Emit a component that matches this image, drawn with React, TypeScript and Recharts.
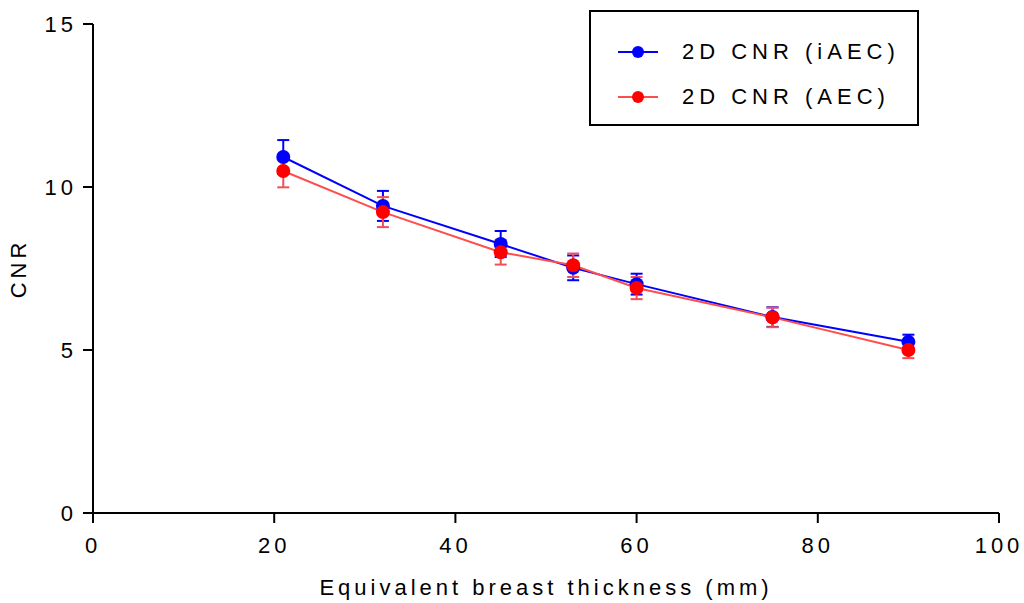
import { LineChart, Line, XAxis, YAxis, ErrorBar } from "recharts";

const thickness = [21, 32, 45, 53, 60, 75, 90];
const cnrIaec = [10.92, 9.42, 8.25, 7.52, 7.02, 6.01, 5.25];
const errIaec = [0.52, 0.46, 0.4, 0.38, 0.32, 0.3, 0.22];
const cnrAec = [10.49, 9.23, 8.0, 7.6, 6.9, 6.0, 5.0];
const errAec = [0.5, 0.46, 0.38, 0.36, 0.34, 0.3, 0.25];

const xTicks = [0, 20, 40, 60, 80, 100];
const yTicks = [0, 5, 10, 15];

const iaecData = thickness.map((x, i) => ({ x, y: cnrIaec[i], err: errIaec[i] }));
const aecData = thickness.map((x, i) => ({ x, y: cnrAec[i], err: errAec[i] }));

const font = "'Liberation Sans', Arial, sans-serif";
const tickStyle = { fontSize: 22, fill: "#000", letterSpacing: 4, fontFamily: font };

const legendItems = [
  { label: "2D CNR (iAEC)", line: "#0000ff", dot: "#0000ff" },
  { label: "2D CNR (AEC)", line: "#ff4d4d", dot: "#ff0000" },
];

function LegendBox() {
  return (
    <div
      style={{
        position: "absolute",
        left: 589,
        top: 10,
        border: "2px solid #000",
        width: 330,
        height: 116,
        boxSizing: "border-box",
        background: "#fff",
        fontFamily: font,
        paddingTop: 17,
      }}
    >
      {legendItems.map((it) => (
        <div key={it.label} style={{ display: "flex", alignItems: "center", height: 45 }}>
          <svg width={90} height={20} style={{ marginLeft: 27 }}>
            <line x1={0} y1={10} x2={40} y2={10} stroke={it.line} strokeWidth={2} />
            <circle cx={20} cy={10} r={6} fill={it.dot} />
          </svg>
          <span style={{ fontSize: 22, letterSpacing: 5, color: "#000", marginLeft: -26 }}>{it.label}</span>
        </div>
      ))}
    </div>
  );
}

export default function App() {
  return (
    <div style={{ position: "fixed", left: 0, top: 0, width: 1024, height: 603, background: "#fff" }}>
      <LineChart width={1024} height={603} margin={{ top: 24, right: 25, bottom: 0, left: 0 }}>
        <XAxis
          type="number"
          dataKey="x"
          domain={[0, 100]}
          ticks={xTicks}
          allowDuplicatedCategory={false}
          height={90}
          tick={tickStyle}
          tickSize={10}
          tickMargin={14}
          axisLine={{ stroke: "#000", strokeWidth: 2 }}
          tickLine={{ stroke: "#000", strokeWidth: 2 }}
          label={{
            value: "Equivalent breast thickness (mm)",
            position: "insideBottom",
            offset: 8,
            style: { fontSize: 22, fill: "#000", letterSpacing: 4, fontFamily: font },
          }}
        />
        <YAxis
          type="number"
          domain={[0, 15]}
          ticks={yTicks}
          width={93}
          tick={tickStyle}
          tickSize={10}
          tickMargin={6}
          axisLine={{ stroke: "#000", strokeWidth: 2 }}
          tickLine={{ stroke: "#000", strokeWidth: 2 }}
          label={{
            value: "CNR",
            angle: -90,
            position: "insideLeft",
            offset: 18,
            style: { fontSize: 22, fill: "#000", letterSpacing: 4, fontFamily: font, textAnchor: "middle" },
          }}
        />
        <Line
          data={iaecData}
          dataKey="y"
          name="2D CNR (iAEC)"
          stroke="#0000ff"
          strokeWidth={2}
          dot={{ r: 7, fill: "#0000ff", stroke: "none" }}
          isAnimationActive={false}
        >
          <ErrorBar dataKey="err" direction="y" width={6} stroke="#0000ff" strokeWidth={2} />
        </Line>
        <Line
          data={aecData}
          dataKey="y"
          name="2D CNR (AEC)"
          stroke="#ff4d4d"
          strokeWidth={2}
          dot={{ r: 7, fill: "#ff0000", stroke: "none" }}
          isAnimationActive={false}
        >
          <ErrorBar dataKey="err" direction="y" width={6} stroke="#f0505a" strokeWidth={2} />
        </Line>
      </LineChart>
      <LegendBox />
    </div>
  );
}
